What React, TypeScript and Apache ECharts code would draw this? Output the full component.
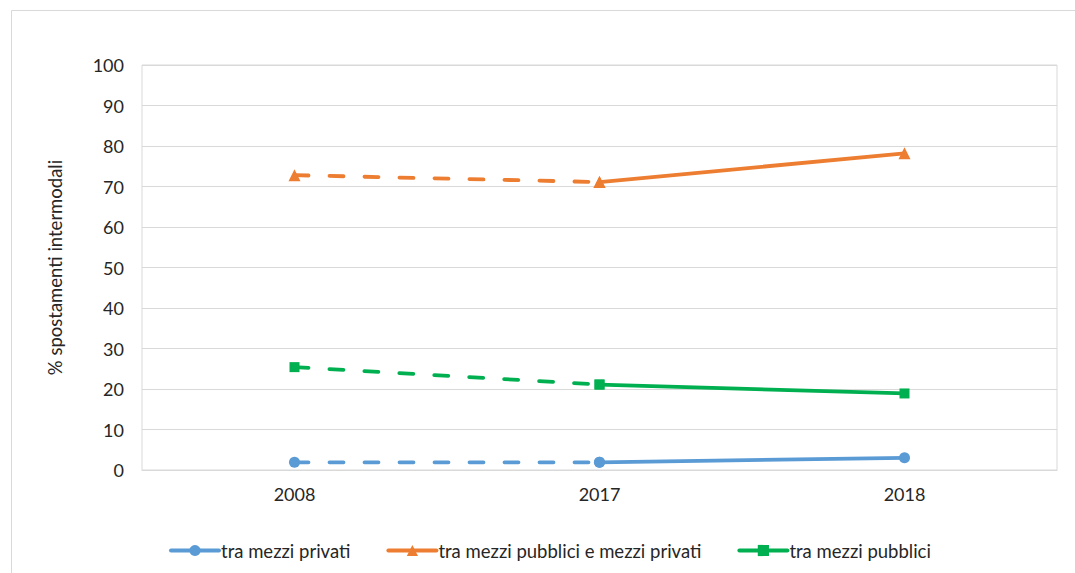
import React, { useEffect, useRef } from "react";
import * as echarts from "echarts";

const categories = ["2008", "2017", "2018"];
const seriesNames = [
  "tra mezzi privati",
  "tra mezzi pubblici e mezzi privati",
  "tra mezzi pubblici",
];
const privati = [1.9, 1.9, 3.0];
const pubbliciPrivati = [72.8, 71.1, 78.2];
const pubblici = [25.4, 21.1, 18.9];
const colors = ["#5B9BD5", "#ED7D31", "#00B050"];
const symbols = ["circle", "triangle", "rect"];
const symbolSizes = [11, 12, 10];

export default function App() {
  const ref = useRef<HTMLDivElement>(null);
  useEffect(() => {
    document.body.style.margin = "0";
    if (!ref.current) return;
    const chart = echarts.init(ref.current, null, { renderer: "svg" });
    const all = [privati, pubbliciPrivati, pubblici];
    const solid = all.map((d, i) => ({
      name: seriesNames[i],
      type: "line",
      data: [null, d[1], d[2]],
      symbol: symbols[i],
      symbolSize: symbolSizes[i],
      showAllSymbol: true,
      itemStyle: { color: colors[i] },
      lineStyle: { color: colors[i], width: 3.8, cap: "round" },
      z: 3,
    }));
    const dashed = all.map((d, i) => ({
      name: seriesNames[i] + " (dash)",
      type: "line",
      data: [d[0], d[1], null],
      symbol: symbols[i],
      symbolSize: symbolSizes[i],
      showAllSymbol: true,
      itemStyle: { color: colors[i] },
      lineStyle: { color: colors[i], width: 3.8, type: [14, 21], cap: "round" },
      z: 2,
    }));
    chart.setOption({
      animation: false,
      textStyle: { fontFamily: "Lato" },
      graphic: [
        {
          type: "rect",
          shape: { x: 11.5, y: 10.5, width: 1100, height: 600 },
          style: { fill: "none", stroke: "#d9d9d9", lineWidth: 1 },
          silent: true,
          z: -10,
        },
      ],
      grid: {
        left: 142,
        right: 18,
        top: 65,
        bottom: 103,
        show: true,
        borderColor: "#d9d9d9",
        borderWidth: 1,
      },
      legend: {
        data: seriesNames,
        left: 164,
        top: 536,
        itemWidth: 48,
        itemHeight: 14,
        itemGap: 36,
        lineStyle: { width: 4 },
        textStyle: { fontSize: 18.5, color: "#262626", fontFamily: "Lato", padding: [0, 0, 0, -3] },
      },
      xAxis: {
        type: "category",
        data: categories,
        boundaryGap: true,
        axisLine: { lineStyle: { color: "#d9d9d9", width: 1 } },
        axisTick: { show: false },
        axisLabel: { fontSize: 18, color: "#262626", margin: 15 },
      },
      yAxis: {
        type: "value",
        min: 0,
        max: 100,
        interval: 10,
        name: "% spostamenti intermodali",
        nameLocation: "middle",
        nameGap: 78,
        nameTextStyle: { fontSize: 18.5, color: "#262626" },
        axisLine: { show: false },
        axisTick: { show: false },
        axisLabel: { fontSize: 18, color: "#262626", margin: 18 },
        splitLine: { lineStyle: { color: "#d9d9d9", width: 1 } },
      },
      series: [...solid, ...dashed],
    });
    return () => chart.dispose();
  }, []);
  return <div ref={ref} style={{ width: 1075, height: 573 }} />;
}
